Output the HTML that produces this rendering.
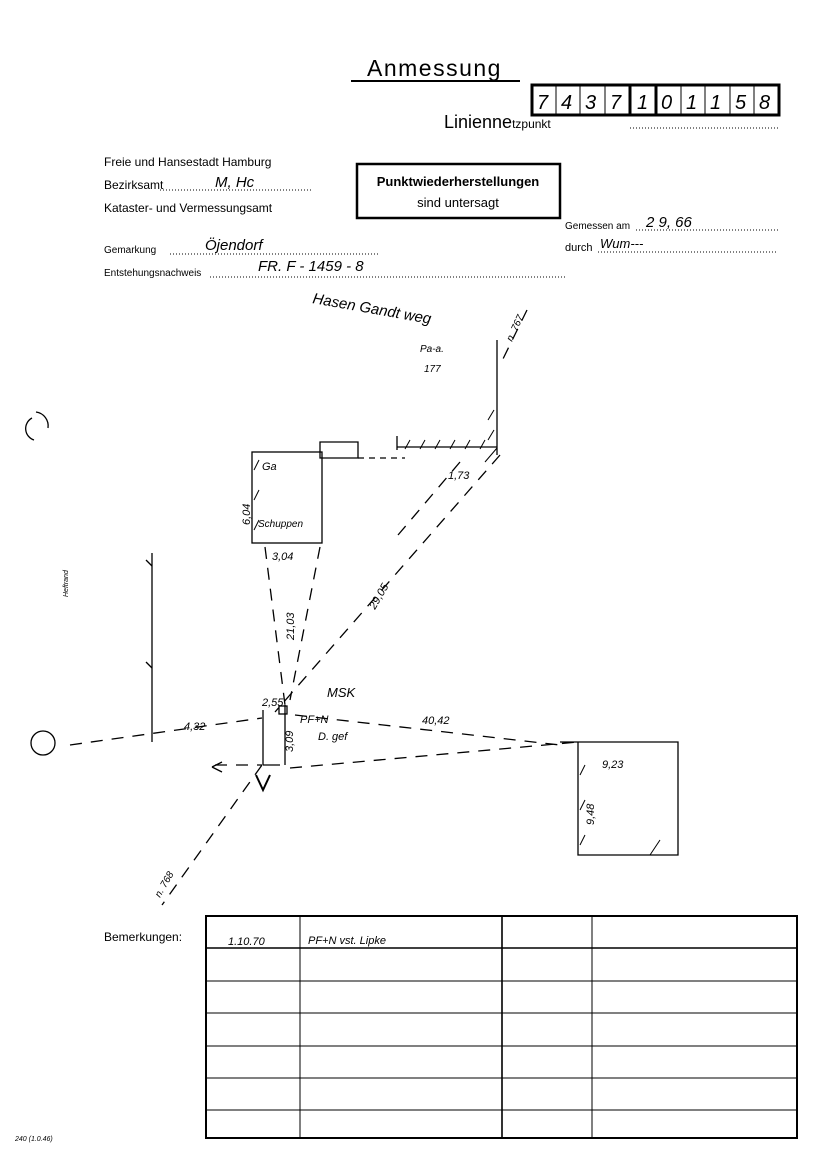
<!DOCTYPE html>
<html><head><meta charset="utf-8"><style>
html,body{margin:0;padding:0;background:#fff;}
svg{display:block;}
text{font-family:"Liberation Sans",sans-serif;fill:#000;}
.hw{font-style:italic;}
</style></head><body>
<svg width="824" height="1169" viewBox="0 0 824 1169" xmlns="http://www.w3.org/2000/svg">
<rect width="824" height="1169" fill="#fff"/>
<!-- Title -->
<text x="367" y="76" font-size="23" letter-spacing="1.5">Anmessung</text>
<line x1="351" y1="81" x2="520" y2="81" stroke="#000" stroke-width="2"/>
<!-- digit box -->
<g stroke="#000" fill="none">
<rect x="532" y="85" width="247" height="30" stroke-width="3"/>
<line x1="556" y1="85" x2="556" y2="115" stroke-width="1"/>
<line x1="580" y1="85" x2="580" y2="115" stroke-width="1"/>
<line x1="605" y1="85" x2="605" y2="115" stroke-width="1"/>
<line x1="630" y1="85" x2="630" y2="115" stroke-width="3"/>
<line x1="656" y1="85" x2="656" y2="115" stroke-width="3"/>
<line x1="681" y1="85" x2="681" y2="115" stroke-width="1"/>
<line x1="705" y1="85" x2="705" y2="115" stroke-width="1"/>
<line x1="730" y1="85" x2="730" y2="115" stroke-width="1"/>
<line x1="754" y1="85" x2="754" y2="115" stroke-width="1"/>
</g>
<g font-size="20" class="hw">
<text x="537" y="109">7</text><text x="561" y="109">4</text><text x="585" y="109">3</text><text x="610" y="109">7</text><text x="637" y="109">1</text><text x="661" y="109">0</text><text x="686" y="109">1</text><text x="710" y="109">1</text><text x="735" y="109">5</text><text x="759" y="109">8</text>
</g>
<text x="444" y="128" font-size="18">Linienne<tspan font-size="12">tzpunkt</tspan></text>
<line x1="630" y1="128" x2="780" y2="128" stroke="#000" stroke-dasharray="1,2"/>
<!-- left header -->
<g font-size="12">
<text x="104" y="166">Freie und Hansestadt Hamburg</text>
<text x="104" y="189">Bezirksamt</text>
<text x="104" y="212">Kataster- und Vermessungsamt</text>
<text x="104" y="253" font-size="10">Gemarkung</text>
<text x="104" y="276" font-size="10">Entstehungsnachweis</text>
<text x="565" y="229" font-size="10">Gemessen am</text>
<text x="565" y="251" font-size="11">durch</text>
</g>
<g stroke="#000" stroke-dasharray="1,2">
<line x1="160" y1="190" x2="312" y2="190"/>
<line x1="170" y1="254" x2="380" y2="254"/>
<line x1="210" y1="277" x2="566" y2="277"/>
<line x1="636" y1="230" x2="778" y2="230"/>
<line x1="598" y1="252" x2="778" y2="252"/>
</g>
<g class="hw" font-size="15">
<text x="215" y="187">M, Hc</text>
<text x="205" y="250">Öjendorf</text>
<text x="258" y="271">FR.  F - 1459 - 8</text>
<text x="646" y="227">2 9, 66</text>
<text x="600" y="248" font-size="13">Wum---</text>
<text x="312" y="303" transform="rotate(10 312 303)">Hasen Gandt weg</text>
</g>
<!-- stamp -->
<rect x="357" y="164" width="203" height="54" fill="none" stroke="#000" stroke-width="2.5"/>
<text x="458" y="186" font-size="13" font-weight="bold" text-anchor="middle">Punktwiederherstellungen</text>
<text x="458" y="207" font-size="13" text-anchor="middle">sind untersagt</text>

<!-- drawing -->
<g stroke="#000" fill="none" stroke-width="1.3">
<!-- main building -->
<line x1="497" y1="340" x2="497" y2="455"/>
<line x1="397" y1="447" x2="497" y2="447"/>
<line x1="397" y1="436" x2="397" y2="450"/>
<path d="M320 442 H358 V458 H320 Z"/>
<line x1="358" y1="458" x2="405" y2="458" stroke-dasharray="6,5"/>
<g stroke-width="1">
<line x1="405" y1="449" x2="410" y2="440"/><line x1="420" y1="449" x2="425" y2="440"/><line x1="435" y1="449" x2="440" y2="440"/><line x1="450" y1="449" x2="455" y2="440"/><line x1="465" y1="449" x2="470" y2="440"/><line x1="480" y1="449" x2="485" y2="440"/>
<line x1="488" y1="420" x2="494" y2="410"/><line x1="488" y1="440" x2="494" y2="430"/>
<line x1="485" y1="462" x2="497" y2="448"/>
</g>
<!-- Garage -->
<rect x="252" y="452" width="70" height="91"/>
<g stroke-width="1"><line x1="254" y1="470" x2="259" y2="460"/><line x1="254" y1="500" x2="259" y2="490"/><line x1="254" y1="530" x2="259" y2="520"/></g>
<!-- dashed lines -->
<g stroke-dasharray="12,9">
<line x1="500" y1="455" x2="275" y2="712"/>
<line x1="460" y1="462" x2="398" y2="535"/>
<line x1="265" y1="547" x2="285" y2="705"/>
<line x1="320" y1="547" x2="290" y2="700"/>
<line x1="527" y1="310" x2="500" y2="365"/>
<line x1="262" y1="765" x2="162" y2="905"/>
<line x1="295" y1="715" x2="560" y2="745"/>
<line x1="290" y1="768" x2="578" y2="742"/>
<line x1="70" y1="745" x2="262" y2="718"/>
<line x1="215" y1="765" x2="262" y2="765"/>
</g>
<line x1="263" y1="710" x2="263" y2="765"/>
<line x1="263" y1="765" x2="280" y2="765"/>
<line x1="285" y1="705" x2="285" y2="765"/>
<!-- left vertical with ticks -->
<line x1="152" y1="553" x2="152" y2="742"/>
<line x1="146" y1="560" x2="152" y2="566"/><line x1="146" y1="662" x2="152" y2="668"/>
<circle cx="43" cy="743" r="12"/>
<path d="M36 412 A14 14 0 0 1 48 428" />
<path d="M32 418 A12 12 0 0 0 34 440" />
<!-- right building -->
<path d="M560 742 H678 V855 H578 V742"/>
<g stroke-width="1"><line x1="580" y1="775" x2="585" y2="765"/><line x1="580" y1="810" x2="585" y2="800"/><line x1="580" y1="845" x2="585" y2="835"/><line x1="650" y1="855" x2="660" y2="840"/></g>
<!-- point -->
<rect x="279" y="706" width="8" height="8"/>
<path d="M212 767 L222 762 M212 767 L222 772"/>
<path d="M256 775 L263 790 L270 775" stroke-width="2"/>
</g>
<!-- drawing labels -->
<g class="hw" font-size="11">
<text x="420" y="352" font-size="10">Pa-a.</text>
<text x="424" y="372" font-size="10">177</text>
<text x="262" y="470">Ga</text>
<text x="258" y="527" font-size="10">Schuppen</text>
<text x="272" y="560">3,04</text>
<text x="448" y="479">1,73</text>
<text x="262" y="706">2,55</text>
<text x="327" y="697" font-size="13">MSK</text>
<text x="300" y="723">PF+N</text>
<text x="318" y="740">D. gef</text>
<text x="422" y="724">40,42</text>
<text x="184" y="730">4,32</text>
<text x="602" y="768">9,23</text>
<text transform="translate(250 525) rotate(-90)" font-size="11">6,04</text>
<text transform="translate(294 640) rotate(-90)">21,03</text>
<text transform="translate(375 610) rotate(-60)">29,05</text>
<text transform="translate(293 752) rotate(-90)">3,09</text>
<text transform="translate(594 825) rotate(-90)">9,48</text>
<text transform="translate(512 342) rotate(-65)" font-size="10">n. 767</text>
<text transform="translate(160 898) rotate(-60)" font-size="10">n. 768</text>
<text transform="translate(68 597) rotate(-90)" font-size="7">Heftrand</text>
</g>

<!-- table -->
<text x="104" y="941" font-size="12">Bemerkungen:</text>
<g stroke="#000" fill="none">
<rect x="206" y="916" width="591" height="222" stroke-width="2"/>
<line x1="206" y1="948" x2="797" y2="948" stroke-width="1.6"/>
<line x1="206" y1="981" x2="797" y2="981"/>
<line x1="206" y1="1013" x2="797" y2="1013"/>
<line x1="206" y1="1046" x2="797" y2="1046"/>
<line x1="206" y1="1078" x2="797" y2="1078"/>
<line x1="206" y1="1110" x2="797" y2="1110"/>
<line x1="300" y1="916" x2="300" y2="1138"/>
<line x1="502" y1="916" x2="502" y2="1138" stroke-width="1.6"/>
<line x1="592" y1="916" x2="592" y2="1138"/>
</g>
<text x="228" y="945" font-size="11" class="hw">1.10.70</text>
<text x="308" y="944" font-size="11" class="hw">PF+N vst. Lipke</text>
<text x="15" y="1141" font-size="7" class="hw">240 (1.0.46)</text>
</svg>
</body></html>
